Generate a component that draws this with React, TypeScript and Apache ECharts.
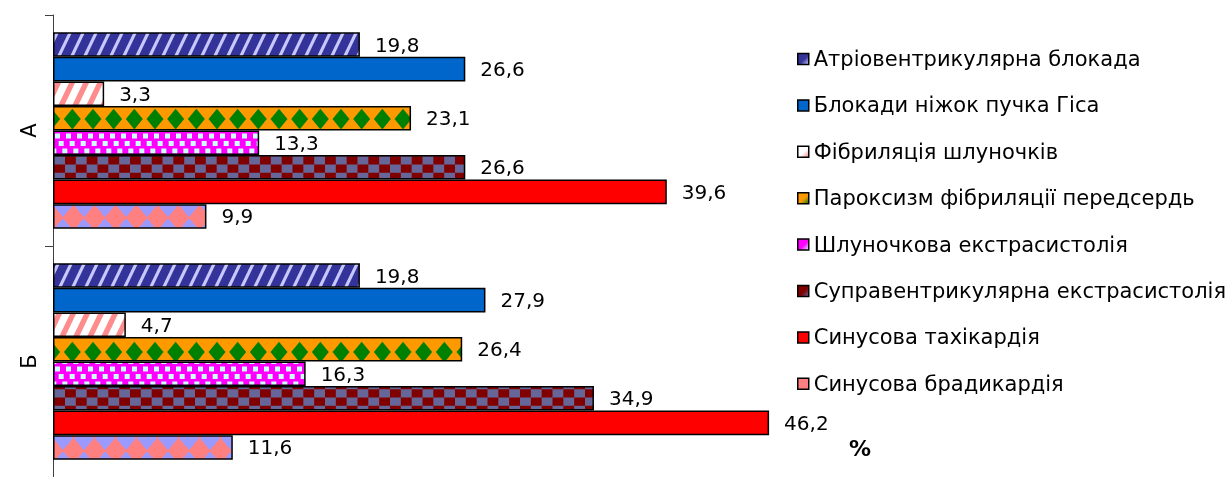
import React, { useEffect, useRef } from 'react';
import * as echarts from 'echarts';

const categories = ['А', 'Б'];
const seriesNames = [
  'Атріовентрикулярна блокада',
  'Блокади ніжок пучка Гіса',
  'Фібриляція шлуночків',
  'Пароксизм фібриляції передсердь',
  'Шлуночкова екстрасистолія',
  'Суправентрикулярна екстрасистолія',
  'Синусова тахікардія',
  'Синусова брадикардія',
];
const valuesA = [19.8, 26.6, 3.3, 23.1, 13.3, 26.6, 39.6, 9.9];
const valuesB = [19.8, 27.9, 4.7, 26.4, 16.3, 34.9, 46.2, 11.6];
const xMin = 0;
const xMax = 50;

const FONT = '"DejaVu Sans", "Noto Sans", sans-serif';
const GRID_LEFT = 53;
const GRID_TOP = 15;
const GRID_W = 775;
const GRID_H = 466;
const CAT_GAP = 0.15;
const BAND = GRID_H / categories.length;
const BAR_H = (BAND * (1 - CAT_GAP)) / seriesNames.length;
const barTop = (i: number) => GRID_TOP + (BAND * CAT_GAP) / 2 + i * BAR_H;

type Draw = (ctx: CanvasRenderingContext2D, w: number, h: number, y0: number) => void;

function makeTile(w: number, i: number, draw: Draw) {
  const h = Math.round(BAND);
  const c = document.createElement('canvas');
  c.width = w;
  c.height = h;
  const ctx = c.getContext('2d') as CanvasRenderingContext2D;
  draw(ctx, w, h, barTop(i) % h);
  return { image: c.toDataURL(), repeat: 'repeat', imageWidth: w, imageHeight: h } as any;
}

const stripes = (bg: string, fg: string, sw: number, slope: number): Draw => (ctx, w, h) => {
  ctx.fillStyle = bg;
  ctx.fillRect(0, 0, w, h);
  ctx.fillStyle = fg;
  const span = h * slope;
  for (let s = -Math.ceil(span / w) - 2; s <= 3; s++) {
    const xb = s * w;
    ctx.beginPath();
    ctx.moveTo(xb + span - sw / 2, 0);
    ctx.lineTo(xb + span + sw / 2, 0);
    ctx.lineTo(xb + sw / 2, h);
    ctx.lineTo(xb - sw / 2, h);
    ctx.closePath();
    ctx.fill();
  }
};

const diamonds = (bg: string, fg: string, n: number, hw: number, hh: number, dy: number): Draw => (ctx, w, h, y0) => {
  ctx.fillStyle = bg;
  ctx.fillRect(0, 0, w, h);
  ctx.fillStyle = fg;
  const p = w / n;
  for (let k = -12; k <= 12; k++) {
    const cy = y0 + BAR_H / 2 + dy + k * BAR_H;
    for (let j = -1; j <= n + 1; j++) {
      const cx = j * p + p / 2;
      ctx.beginPath();
      ctx.moveTo(cx, cy - hh);
      ctx.lineTo(cx + hw, cy);
      ctx.lineTo(cx, cy + hh);
      ctx.lineTo(cx - hw, cy);
      ctx.closePath();
      ctx.fill();
    }
  }
};

const checker = (a: string, b: string, n: number, rows: number): Draw => (ctx, w, h, y0) => {
  ctx.fillStyle = a;
  ctx.fillRect(0, 0, w, h);
  ctx.fillStyle = b;
  const cw = w / n;
  const ch = BAR_H / rows;
  for (let r = -40; r <= 40; r++) {
    const y = y0 + r * ch;
    for (let j = 0; j < n; j++) {
      if ((((r + j) % 2) + 2) % 2 === 0) ctx.fillRect(j * cw, y, cw, ch);
    }
  }
};

const dots = (bg: string, fg: string, size: number, rowPitch: number, shift: number): Draw => (ctx, w, h, y0) => {
  ctx.fillStyle = bg;
  ctx.fillRect(0, 0, w, h);
  ctx.fillStyle = fg;
  for (let r = -60; r <= 60; r++) {
    const y = y0 + 2 + r * rowPitch;
    const off = (((r * shift) % w) + w) % w;
    for (let j = -1; j <= 1; j++) ctx.fillRect(off + j * w, y, size, size);
  }
};

function buildFills() {
  return [
    makeTile(13, 0, stripes('#333399', '#c8c8ff', 3.5, 0.48)),
    '#0066cc',
    makeTile(14, 2, stripes('#ffffff', '#ff8c8c', 6, 0.48)),
    makeTile(62, 3, diamonds('#ff9900', '#008000', 3, 8.5, 10.3, 0)),
    makeTile(11, 4, dots('#ff00ff', '#ccffff', 5, 7.5, 11 / 3)),
    makeTile(65, 5, checker('#666699', '#800000', 6, 3)),
    '#ff0000',
    makeTile(63, 7, diamonds('#9999ff', '#ff8080', 3, 11, BAR_H / 2 + 0.5, -0.5)),
  ];
}

const legendColors = [
  ['#333399', '#ccccff'],
  ['#0066cc', '#0066cc'],
  ['#ffffff', '#ff8080'],
  ['#ff9900', '#008000'],
  ['#ff00ff', '#ccffff'],
  ['#800000', '#666699'],
  ['#ff0000', '#ff0000'],
  ['#ff8080', '#ff8080'],
];

export default function App() {
  const ref = useRef<HTMLDivElement>(null);
  useEffect(() => {
    if (!ref.current) return;
    const chart = echarts.init(ref.current, undefined, { renderer: 'svg' });
    const fills = buildFills();
    const fmt = (p: any) => Number(p.value).toFixed(1).replace('.', ',');
    chart.setOption({
      animation: false,
      grid: { left: GRID_LEFT, top: GRID_TOP, width: GRID_W, height: GRID_H, containLabel: false },
      xAxis: { type: 'value', min: xMin, max: xMax, show: false },
      yAxis: {
        type: 'category',
        inverse: true,
        data: categories,
        axisLine: { show: true, lineStyle: { color: '#404040', width: 1 } },
        axisTick: { show: true, length: 8, lineStyle: { color: '#404040', width: 1 } },
        axisLabel: { rotate: 90, fontSize: 21, color: '#000', margin: 14, fontFamily: FONT },
        splitLine: { show: false },
      },
      legend: {
        orient: 'vertical',
        left: 797,
        top: 48,
        padding: 0,
        itemWidth: 11,
        itemHeight: 11,
        itemGap: 24.4,
        icon: 'rect',
        textStyle: { fontSize: 21, color: '#000', fontFamily: FONT, lineHeight: 22, padding: [0, 0, 0, 0] },
        selectedMode: false,
        data: seriesNames.map((name, i) => ({
          name,
          itemStyle: {
            color: new echarts.graphic.LinearGradient(0, 0, 1, 1, [
              { offset: 0, color: legendColors[i][0] },
              { offset: 0.55, color: legendColors[i][0] },
              { offset: 1, color: legendColors[i][1] },
            ]),
            borderColor: '#000',
            borderWidth: 1.5,
          },
        })),
      },
      graphic: [
        {
          type: 'text',
          left: 849,
          top: 437,
          style: { text: '%', font: `bold 22px ${FONT}`, fill: '#000' },
        },
      ],
      series: seriesNames.map((name, i) => ({
        type: 'bar',
        name,
        data: [valuesA[i], valuesB[i]],
        barGap: '0%',
        barCategoryGap: `${CAT_GAP * 100}%`,
        itemStyle: { color: fills[i], borderColor: '#000', borderWidth: 1.5 },
        label: {
          show: true,
          position: 'right',
          distance: 15,
          formatter: fmt,
          fontSize: 20,
          color: '#000',
          fontFamily: FONT,
          offset: [0, 0],
        },
        emphasis: { disabled: true },
      })),
    });
    return () => chart.dispose();
  }, []);
  return <div ref={ref} style={{ position: 'fixed', left: 0, top: 0, width: 1231, height: 477 }} />;
}
